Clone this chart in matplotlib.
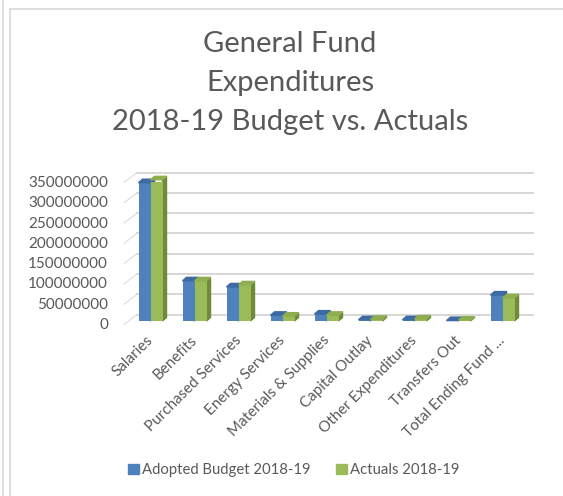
import matplotlib.pyplot as plt
import numpy as np
from matplotlib.patches import Polygon, Patch
from matplotlib.lines import Line2D

categories = ["Salaries", "Benefits", "Purchased Services", "Energy Services",
              "Materials & Supplies", "Capital Outlay", "Other Expenditures",
              "Transfers Out", "Total Ending Fund ..."]
adopted = [341e6, 99e6, 84e6, 14e6, 17e6, 3e6, 3e6, 1e6, 64e6]
actuals = [348e6, 99e6, 89e6, 12e6, 14e6, 4e6, 5e6, 2e6, 57e6]
series_names = ["Adopted Budget 2018-19", "Actuals 2018-19"]
yticks = np.arange(0, 350e6 + 1, 50e6)

W, H = 563, 496
text_color = "#595959"
plt.rcParams["font.family"] = ["Lato", "DejaVu Sans"]

fig = plt.figure(figsize=(W / 100, H / 100), dpi=100)

# front plane of the plot, in pixels from the top-left corner
left, right, top, bottom = 126, 522, 181.5, 323.5
ax = fig.add_axes([left / W, (H - bottom) / H, (right - left) / W, (bottom - top) / H])
ax.set_xlim(-0.5, len(categories) - 0.5)
ax.set_ylim(0, 350e6)

px_x = (right - left) / len(categories)
px_y = (bottom - top) / 350e6


def dx(p):
    return p / px_x


def dy(p):
    return p / px_y


# back wall gridlines with little slanted ticks on the left
bx, by = dx(11), dy(9)
for v in yticks:
    ax.plot([-0.5 + bx, len(categories) - 0.5 + bx], [v + by, v + by],
            color="#d4d4d4", lw=1.3, clip_on=False, zorder=0)
    ax.plot([-0.5 - dx(2), -0.5 + bx], [v - dy(1), v + by],
            color="#dcdcdc", lw=0.8, clip_on=False, zorder=0)

# pseudo 3d columns, blue first so the green ones cover its side
x = np.arange(len(categories))
w = dx(12)
fx, fy = dx(2.5), dy(2.5)
ddx, ddy = dx(4), dy(3.5)
faces = [("#4f81bd", "#3d6aa3", "#385d8a"), ("#9bbb59", "#8fae50", "#6e8a3a")]
for k, vals in enumerate([adopted, actuals]):
    front, topc, side = faces[k]
    z = 2 + 2 * k
    for xi, v in zip(x, vals):
        x0 = xi + fx - w + k * w
        x1 = x0 + w
        y0, y1 = fy, fy + v
        ax.bar(x0, v, width=w, bottom=y0, align="edge", color=front, zorder=z)
        ax.add_patch(Polygon([(x0, y1), (x1, y1), (x1 + ddx, y1 + ddy), (x0 + ddx, y1 + ddy)],
                             closed=True, color=topc, zorder=z, clip_on=False))
        ax.add_patch(Polygon([(x1, y0), (x1, y1), (x1 + ddx, y1 + ddy), (x1 + ddx, y0 + ddy)],
                             closed=True, color=side, zorder=z - 0.5, clip_on=False))

for s in ax.spines.values():
    s.set_visible(False)
ax.set_yticks(yticks)
ax.set_yticklabels([f"{int(v)}" for v in yticks], fontsize=11, color=text_color)
ax.tick_params(axis="y", length=0, pad=13)
ax.set_xticks(x - dx(2))
ax.set_xticklabels(categories, rotation=45, ha="right", rotation_mode="anchor",
                   fontsize=10.9, color=text_color)
ax.tick_params(axis="x", length=0, pad=7)

fig.text(290 / W, 1 - 31 / H, "General Fund\nExpenditures\n2018-19 Budget vs. Actuals",
         ha="center", va="top", fontsize=21, color=text_color, linespacing=1.62)

handles = [Patch(color=faces[0][0]), Patch(color=faces[1][0])]
fig.legend(handles, series_names, loc="center", bbox_to_anchor=(294 / W, 1 - 470 / H),
           ncol=2, frameon=False, fontsize=10.7, labelcolor=text_color,
           handlelength=0.7, handleheight=0.7, handletextpad=0.25, columnspacing=1.7)

# outer chart frame
fig.add_artist(Line2D([3 / W, 3 / W], [0, 1], color="#d9d9d9", lw=1.2))
fig.add_artist(Line2D([9.5 / W, 9.5 / W], [0, 1 - 9 / H], color="#d9d9d9", lw=1.2))
fig.add_artist(Line2D([9.5 / W, 1], [1 - 9 / H, 1 - 9 / H], color="#d9d9d9", lw=1.2))

plt.savefig("out.png", dpi=100)
